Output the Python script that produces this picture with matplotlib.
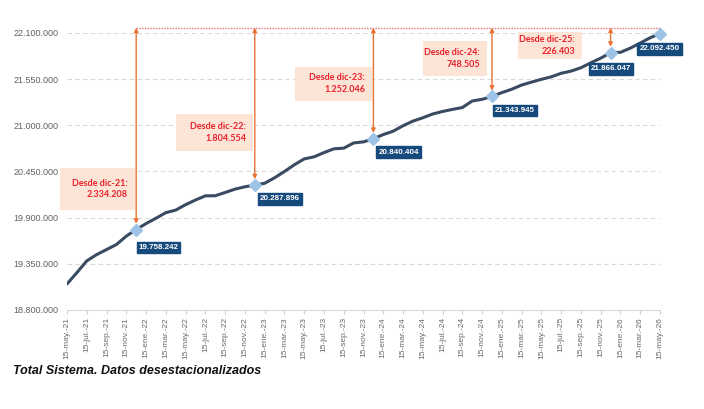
import matplotlib
matplotlib.use("Agg")
import matplotlib.pyplot as plt
from matplotlib.patches import Rectangle

# ---------------- data ----------------
# monthly values (15th of month), may-21 .. may-26
values = [
    19110000, 19245000, 19385000, 19460000, 19520000, 19580000, 19680000, 19758242,  # may-21..dic-21
    19830000, 19893000, 19960000, 19990000, 20055000, 20110000, 20160000, 20161000,  # ene-22..ago-22
    20200000, 20240000, 20268000, 20287896,                                          # sep-22..dic-22
    20310000, 20375000, 20450000, 20530000, 20600000, 20625000, 20675000, 20720000,  # ene-23..ago-23
    20728000, 20790000, 20803000, 20840404,                                          # sep-23..dic-23
    20890000, 20930000, 20995000, 21050000, 21090000, 21135000, 21165000, 21190000,  # ene-24..ago-24
    21212000, 21290000, 21310000, 21343945,                                          # sep-24..dic-24
    21390000, 21430000, 21480000, 21515000, 21548000, 21578000, 21620000, 21646000,  # ene-25..ago-25
    21686000, 21745000, 21800000, 21866047,                                          # sep-25..dic-25
    21870000, 21920000, 21980000, 22043000, 22092450,                                # ene-26..may-26
]
tick_labels = [
    "15-may.-21", "15-jul.-21", "15-sep.-21", "15-nov.-21",
    "15-ene.-22", "15-mar.-22", "15-may.-22", "15-jul.-22", "15-sep.-22", "15-nov.-22",
    "15-ene.-23", "15-mar.-23", "15-may.-23", "15-jul.-23", "15-sep.-23", "15-nov.-23",
    "15-ene.-24", "15-mar.-24", "15-may.-24", "15-jul.-24", "15-sep.-24", "15-nov.-24",
    "15-ene.-25", "15-mar.-25", "15-may.-25", "15-jul.-25", "15-sep.-25", "15-nov.-25",
    "15-ene.-26", "15-mar.-26", "15-may.-26",
]
y_ticks = [18800000, 19350000, 19900000, 20450000, 21000000, 21550000, 22100000]
# highlighted points: month index
highlight_idx = [7, 19, 31, 43, 55, 60]
box_titles = ["Desde dic-21:", "Desde dic-22:", "Desde dic-23:", "Desde dic-24:", "Desde dic-25:"]
box_values = ["2.334.208", "1.804.554", "1.252.046", "748.505", "226.403"]
title = "Total Sistema. Datos desestacionalizados"

# ---------------- figure ----------------
W, H = 704, 409
fig = plt.figure(figsize=(W / 100, H / 100), dpi=100)
ax_l, ax_r, ax_t, ax_b = 67, 660, 33, 310
ax = fig.add_axes([ax_l / W, 1 - ax_b / H, (ax_r - ax_l) / W, (ax_b - ax_t) / H])

x = list(range(len(values)))
ax.set_xlim(0, len(values) - 1)
ax.set_ylim(y_ticks[0], y_ticks[-1])

for yt in y_ticks[1:]:
    ax.axhline(yt, color="#D9D9D9", lw=0.8, ls=(0, (4, 3)), zorder=0)

ax.plot(x, values, color="#3A4A60", lw=2.2, solid_capstyle="round", zorder=3)

def fmt(v):
    return f"{v:,.0f}".replace(",", ".")

ax.set_yticks(y_ticks)
ax.set_yticklabels([fmt(v) for v in y_ticks], fontsize=6.5, color="#606060",
                   family="Liberation Sans")
ax.tick_params(axis="y", length=0, pad=6)
ax.set_xticks(list(range(0, len(values), 2)))
ax.set_xticklabels(tick_labels, rotation=90, fontsize=6, color="#6A6A6A",
                   family="Liberation Sans")
ax.tick_params(axis="x", length=3, color="#D0D0D0", pad=2)
for s in ["top", "right", "left"]:
    ax.spines[s].set_visible(False)
ax.spines["bottom"].set_color("#D9D9D9")
ax.spines["bottom"].set_linewidth(0.8)

def px2y(py):
    return y_ticks[-1] - (py - ax_t) / (ax_b - ax_t) * (y_ticks[-1] - y_ticks[0])

top_line = px2y(27.7)
ax.plot([highlight_idx[0], highlight_idx[-1]], [top_line, top_line], color="#E8707A",
        lw=1.0, ls=(0, (1, 1)), zorder=2, clip_on=False)

arrow_col = "#E97132"
for i in highlight_idx[:-1]:
    v = values[i]
    ax.annotate("", xy=(i, top_line), xytext=(i, v + 70000),
                arrowprops=dict(arrowstyle="<|-|>", color=arrow_col, lw=1.0,
                                mutation_scale=6, shrinkA=0, shrinkB=0),
                zorder=4, annotation_clip=False)

# markers
ax.plot([x[i] for i in highlight_idx], [values[i] for i in highlight_idx], ls="none",
        marker="D", ms=6.5, color="#9DC3E6", mec="#9DC3E6", zorder=5, clip_on=False)

# peach boxes (pixel geometry: x0, x1, y0, y1)
boxes = [(60, 135, 168, 210), (176, 253, 114, 151), (295, 372, 67, 101),
         (423, 487, 41, 76), (518, 582, 32, 59)]
for (x0, x1, y0, y1), t1, t2 in zip(boxes, box_titles, box_values):
    rect = Rectangle((x0, H - y1), x1 - x0, y1 - y0, transform=None,
                     facecolor="#FCE4D6", edgecolor="none", zorder=1)
    fig.patches.append(rect)
    cy = (y0 + y1) / 2
    fig.text((x1 - 7) / W, 1 - (cy - 6) / H, t1, ha="right", va="center",
             fontsize=6.5, fontweight="bold", color="#E8202A", family="Lato")
    fig.text((x1 - 7) / W, 1 - (cy + 6) / H, t2, ha="right", va="center",
             fontsize=6.5, fontweight="bold", color="#E8202A", family="Lato")

# navy value labels (pixel center positions)
label_pos = [(158.5, 247.5), (280, 199), (398.5, 152), (515, 110.5), (611, 69), (659.5, 49)]
for (cx, cy), i in zip(label_pos, highlight_idx):
    fig.text(cx / W, 1 - cy / H, fmt(values[i]), ha="center", va="center",
             fontsize=5.8, fontweight="bold", color="white", family="Liberation Sans",
             bbox=dict(boxstyle="square,pad=0.25", facecolor="#174A7C",
                       edgecolor="#174A7C"), zorder=6)

fig.text(13 / W, 1 - 371 / H, title, ha="left", va="center", fontsize=9,
         fontweight="bold", fontstyle="italic", color="#111111", family="Liberation Sans")

fig.savefig("out.png", dpi=100)
